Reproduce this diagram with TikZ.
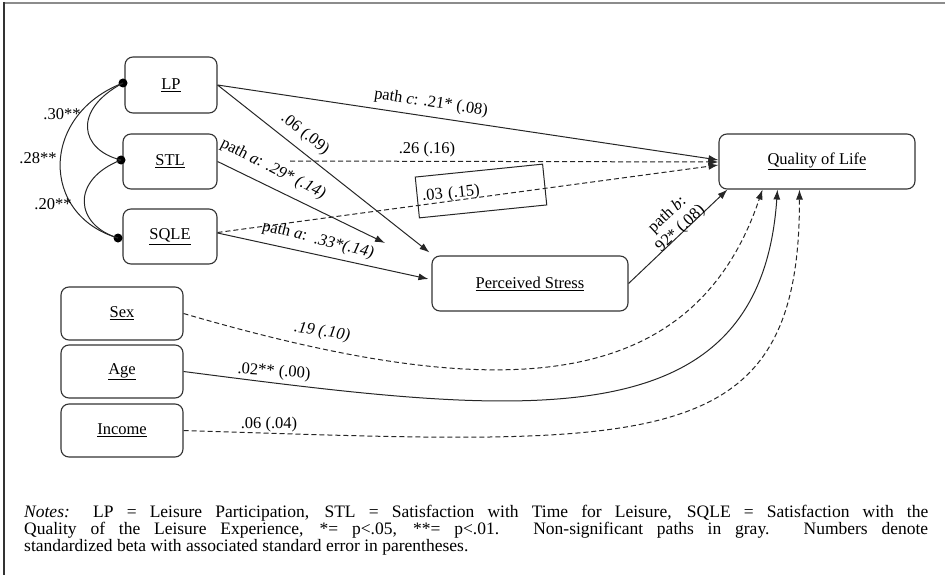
\documentclass[tikz,border=0pt]{standalone}
\usepackage{fontspec}
\setmainfont{Liberation Serif}
\usetikzlibrary{arrows.meta,calc}
\begin{document}
\begin{tikzpicture}[x=1pt,y=-1pt,
  box/.style={draw=black!80, line width=1.1pt, rounded corners=8pt, minimum height=55pt, inner sep=0pt, font=\fontsize{16.5}{18}\selectfont},
  dot/.style={circle, fill=black, inner sep=0pt, minimum size=9pt},
  lbl/.style={font=\fontsize{16.5}{19}\selectfont, inner sep=1pt},
  ln/.style={line width=1pt, draw=black!85},
  dsh/.style={dash pattern=on 5pt off 3pt},
  arr/.style={-{Latex[length=10pt,width=7pt]}},
  notefont/.style={font=\fontsize{17.5}{17}\selectfont, inner sep=0pt, anchor=base west}
]
\useasboundingbox (0,0) rectangle (945,575);
% frame
\draw[black!45, line width=2.2pt] (4,3) -- (945,3);
\draw[black!80, line width=1.5pt] (4,2) -- (4,575);

% nodes
\node[box, minimum width=92pt, minimum height=56pt] (lp) at (171,85) {\underline{LP}};
\node[box, minimum width=94pt] (stl) at (170,161.5) {\underline{STL}};
\node[box, minimum width=94pt] (sqle) at (170,236.5) {\underline{SQLE}};
\node[box, minimum width=196pt] (qol) at (817,161.5) {\underline{Quality of Life}};
\node[box, minimum width=196pt] (ps) at (530,283.5) {\underline{Perceived Stress}};
\node[box, minimum width=122pt, minimum height=53pt] (sex) at (122,313.5) {\underline{Sex}};
\node[box, minimum width=122pt, minimum height=53pt] (age) at (122,371.5) {\underline{Age}};
\node[box, minimum width=122pt, minimum height=53pt] (inc) at (122,430.5) {\underline{Income}};

% correlation dots
\node[dot] (dlp) at (123,83) {};
\node[dot] (dstl) at (121,160) {};
\node[dot] (dsq) at (118,238) {};

% correlations
\draw[ln] (dlp.center) .. controls (72,110) and (80,150) .. (dstl.center);
\draw[ln] (dlp.center) .. controls (40,115) and (40,215) .. (dsq.center);
\draw[ln] (dstl.center) .. controls (70,180) and (75,225) .. (dsq.center);
\node[lbl] (c30) at (62,114) {.30**};
\node[lbl] (c28) at (38,158) {.28**};
\node[lbl] (c20) at (53,204) {.20**};

% paths
\coordinate (stlend) at (385,243);
\coordinate (s26) at (290,161);
\draw[ln, arr] (lp.east) -- ($(qol.west)+(0,-1.5)$);
\draw[ln, arr] (lp.east) -- ($(ps.north west)+(-2,-3)$);
\draw[ln, arr] (stl.east) -- (stlend);
\draw[ln, arr] ($(sqle.east)+(0,-3.5)$) -- ($(ps.west)+(-3,-4.5)$);
\draw[ln, dsh, arr] (s26) -- ($(qol.west)+(0,0.5)$);
\draw[ln, dsh, arr] ($(sqle.east)+(0,-4)$) -- ($(qol.west)+(0,3.5)$);
\draw[ln, arr] (ps.east) -- ($(qol.south west)+(9,0)$);
\draw[ln, dsh, arr] (sex.east) .. controls (480,400) and (690,405) .. ($(qol.south west)+(44,0)$);
\draw[ln, arr] (age.east) .. controls (520,415) and (760,445) .. ($(qol.south west)+(59,0)$);
\draw[ln, dsh, arr] (inc.east) .. controls (650,445) and (800,460) .. ($(qol.south west)+(81,0)$);

% labels
\node[lbl, rotate=-8.6] (lc) at (431,103) {path \textit{c}: .21* (.08)};
\node[lbl, rotate=-38] (l06) at (305,134) {.06 (.09)};
\node[lbl, rotate=-27] (la1) at (273,169) {path \textit{a}: \textit{.29* (.14)}};
\node[lbl, rotate=-14] (la2) at (318,240) {path \textit{a}:\ \ \textit{.33*(.14)}};
\node[lbl] (l26) at (427,150) {.26 (.16)};
\node[draw=black!85, line width=1pt, rotate=5.8, minimum width=128pt, minimum height=41pt,
      text width=118pt, align=left, inner sep=4pt, font=\fontsize{16.5}{18}\selectfont] (l03) at (481,191) {.03 (.15)};
\node[lbl, rotate=43, align=center] (lb) at (674,222) {path \textit{b}:\\92* (.08)};
\node[lbl, rotate=-9] (l19) at (322,332) {\textit{.19 (.10)}};
\node[lbl, rotate=-4] (l02) at (274,372) {.02** (.00)};
\node[lbl] (l06b) at (269,425) {.06 (.04)};

% notes
\node[notefont] (n1) at (24,517) {\makebox[904pt][s]{\textit{Notes:} LP = Leisure Participation, STL = Satisfaction with Time for Leisure, SQLE = Satisfaction with the}};
\node[notefont] (n2) at (24,534) {\makebox[904pt][s]{Quality of the Leisure Experience, *= p<.05, **= p<.01. Non-significant paths in gray. Numbers denote}};
\node[notefont] (n3) at (24,551) {standardized beta with associated standard error in parentheses.};
\end{tikzpicture}
\end{document}
